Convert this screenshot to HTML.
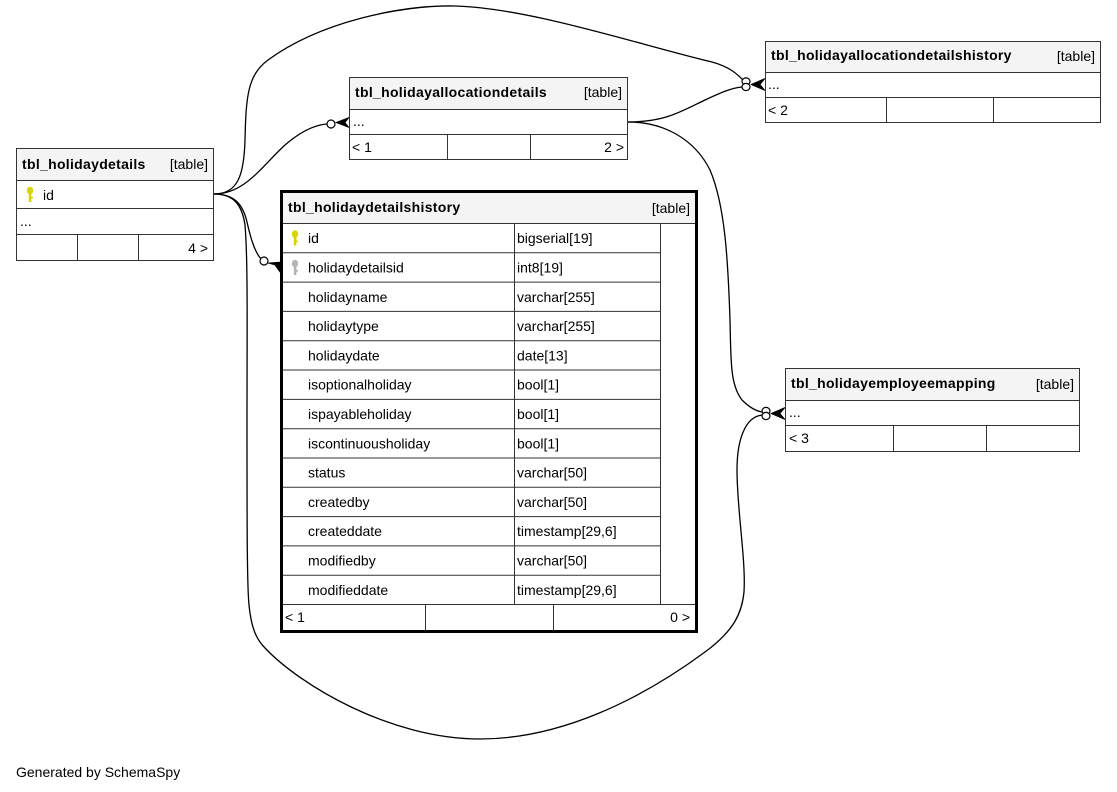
<!DOCTYPE html>
<html>
<head>
<meta charset="utf-8">
<style>
  html, body { margin:0; padding:0; background:#fff; }
  body { width:1117px; height:792px; overflow:hidden; }
  svg { display:block; }
  .t { font-family:"Liberation Sans", Arial, sans-serif; font-size:14px; fill:#000; }
  .b { font-family:"Liberation Sans", Arial, sans-serif; font-size:14px; font-weight:bold; letter-spacing:0.3px; fill:#000; }
  .box { fill:#fff; stroke:#333; stroke-width:1; }
  .hd { fill:#f4f4f4; stroke:none; }
  .ln { stroke:#333; stroke-width:1; fill:none; }
  .c { stroke:#000; stroke-width:1.3; fill:none; }
  .o { stroke:#000; stroke-width:1.2; fill:#fff; }
  .crow { fill:#000; stroke:#000; stroke-width:0.8; }
</style>
</head>
<body>
<svg width="1117" height="792" viewBox="0 0 1117 792" xmlns="http://www.w3.org/2000/svg">
  <rect x="0" y="0" width="1117" height="792" fill="#fff"/>

  <!-- ===== Connectors ===== -->
  <!-- holidaydetails -> allocationdetails -->
  <path class="c" d="M214,194 C245,194 262,166 285,145 C300,132 314,125 327,124"/>
  <!-- holidaydetails -> allocationdetailshistory (top arc) -->
  <path class="c" d="M214,194 C238,194 244,175 245,140 C246,95 248,75 268,60 C320,22 400,5 455,6 C530,8 640,45 712,62 C730,67 737,74 743,80"/>
  <!-- allocationdetails -> allocationdetailshistory -->
  <path class="c" d="M628,122 C665,122 680,112 705,100 C720,93 731,88 742,87"/>
  <!-- holidaydetails -> detailshistory.holidaydetailsid -->
  <path class="c" d="M214,194 C235,194 243,205 247,222 C251,240 255,252 261,259"/>
  <!-- holidaydetails -> employeemapping (bottom loop) -->
  <path class="c" d="M214,194 C234,194 242,205 245,225 C248,260 247,330 247,420 C247,520 247,585 249,605 C251,625 255,638 265,648 C300,685 390,739 480,739 C560,739 640,700 705,652 C735,630 742,612 744,592 C746,560 737,510 737,470 C737,440 745,417 762,415"/>
  <!-- allocationdetails -> employeemapping -->
  <path class="c" d="M628,122 C665,122 695,140 710,170 C725,205 728,260 730,320 C731,360 730,385 742,400 C750,408 756,411 762,412"/>

  <!-- end markers: allocationdetails -->
  <circle class="o" cx="331" cy="124" r="4"/>
  <polygon class="crow" points="349,117.5 336,122.5 349,127.5 345,122.5"/>

  <!-- end markers: allocationdetailshistory -->
  <ellipse class="o" cx="746" cy="81.5" rx="4" ry="3.6"/>
  <ellipse class="o" cx="746" cy="87" rx="4" ry="3.6"/>
  <polygon class="crow" points="765,78.5 751,84.5 765,90.5 760,84.5"/>

  <!-- end markers: detailshistory -->
  <circle class="o" cx="264" cy="261" r="4"/>
  <polygon class="crow" points="268,263 281,262 280,272 275,265"/>

  <!-- end markers: employeemapping -->
  <ellipse class="o" cx="766" cy="411" rx="4" ry="3.6"/>
  <ellipse class="o" cx="766" cy="416" rx="4" ry="3.6"/>
  <polygon class="crow" points="785,407.5 771,413.5 785,419.5 780,413.5"/>

  <!-- ===== tbl_holidaydetails ===== -->
  <rect class="box" x="16.5" y="148.5" width="197" height="112"/>
  <rect class="hd" x="17" y="149" width="196" height="31"/>
  <line class="ln" x1="16" y1="180.5" x2="214" y2="180.5"/>
  <line class="ln" x1="16" y1="208.5" x2="214" y2="208.5"/>
  <line class="ln" x1="16" y1="234.5" x2="214" y2="234.5"/>
  <line class="ln" x1="77.5" y1="235" x2="77.5" y2="261"/>
  <line class="ln" x1="138.5" y1="235" x2="138.5" y2="261"/>
  <text class="b" x="22" y="169">tbl_holidaydetails</text>
  <text class="t" x="208" y="169" text-anchor="end">[table]</text>
  <g fill="#d8d400">
    <ellipse cx="30" cy="190.5" rx="3.2" ry="3.8"/>
    <rect x="28.8" y="193" width="2.6" height="9"/>
    <rect x="31" y="197" width="2" height="1.6"/>
  </g>
  <text class="t" x="43" y="200">id</text>
  <text class="t" x="20" y="226">...</text>
  <text class="t" x="208" y="253" text-anchor="end">4 &gt;</text>

  <!-- ===== tbl_holidayallocationdetails ===== -->
  <rect class="box" x="349.5" y="77.5" width="278" height="82"/>
  <rect class="hd" x="350" y="78" width="277" height="31"/>
  <line class="ln" x1="349" y1="109.5" x2="628" y2="109.5"/>
  <line class="ln" x1="349" y1="134.5" x2="628" y2="134.5"/>
  <line class="ln" x1="447.5" y1="135" x2="447.5" y2="160"/>
  <line class="ln" x1="530.5" y1="135" x2="530.5" y2="160"/>
  <text class="b" x="355" y="97">tbl_holidayallocationdetails</text>
  <text class="t" x="622" y="97" text-anchor="end">[table]</text>
  <text class="t" x="353" y="126">...</text>
  <text class="t" x="352" y="152">&lt; 1</text>
  <text class="t" x="624" y="152" text-anchor="end">2 &gt;</text>

  <!-- ===== tbl_holidayallocationdetailshistory ===== -->
  <rect class="box" x="765.5" y="41.5" width="335" height="81"/>
  <rect class="hd" x="766" y="42" width="334" height="30"/>
  <line class="ln" x1="765" y1="72.5" x2="1101" y2="72.5"/>
  <line class="ln" x1="765" y1="97.5" x2="1101" y2="97.5"/>
  <line class="ln" x1="886.5" y1="98" x2="886.5" y2="123"/>
  <line class="ln" x1="993.5" y1="98" x2="993.5" y2="123"/>
  <text class="b" x="771" y="60">tbl_holidayallocationdetailshistory</text>
  <text class="t" x="1095" y="61" text-anchor="end">[table]</text>
  <text class="t" x="768" y="89">...</text>
  <text class="t" x="768" y="115">&lt; 2</text>

  <!-- ===== tbl_holidayemployeemapping ===== -->
  <rect class="box" x="785.5" y="368.5" width="294" height="83"/>
  <rect class="hd" x="786" y="369" width="293" height="31"/>
  <line class="ln" x1="785" y1="400.5" x2="1080" y2="400.5"/>
  <line class="ln" x1="785" y1="425.5" x2="1080" y2="425.5"/>
  <line class="ln" x1="893.5" y1="426" x2="893.5" y2="452"/>
  <line class="ln" x1="986.5" y1="426" x2="986.5" y2="452"/>
  <text class="b" x="791" y="388">tbl_holidayemployeemapping</text>
  <text class="t" x="1074" y="389" text-anchor="end">[table]</text>
  <text class="t" x="789" y="417">...</text>
  <text class="t" x="789" y="443">&lt; 3</text>

  <!-- ===== tbl_holidaydetailshistory ===== -->
  <rect x="281.5" y="191.5" width="415" height="440" fill="#fff" stroke="#000" stroke-width="3"/>
  <rect class="hd" x="283" y="193" width="412" height="30"/>
  <line class="ln" x1="283" y1="223.5" x2="695" y2="223.5"/>
  <g class="ln">
    <line x1="283" y1="252.8" x2="660" y2="252.8"/>
    <line x1="283" y1="282.1" x2="660" y2="282.1"/>
    <line x1="283" y1="311.4" x2="660" y2="311.4"/>
    <line x1="283" y1="340.7" x2="660" y2="340.7"/>
    <line x1="283" y1="370.0" x2="660" y2="370.0"/>
    <line x1="283" y1="399.4" x2="660" y2="399.4"/>
    <line x1="283" y1="428.7" x2="660" y2="428.7"/>
    <line x1="283" y1="458.0" x2="660" y2="458.0"/>
    <line x1="283" y1="487.3" x2="660" y2="487.3"/>
    <line x1="283" y1="516.6" x2="660" y2="516.6"/>
    <line x1="283" y1="545.9" x2="660" y2="545.9"/>
    <line x1="283" y1="575.2" x2="660" y2="575.2"/>
  </g>
  <line class="ln" x1="514.5" y1="223" x2="514.5" y2="604"/>
  <line class="ln" x1="660.5" y1="223" x2="660.5" y2="604"/>
  <line class="ln" x1="283" y1="604.5" x2="695" y2="604.5"/>
  <line class="ln" x1="425.5" y1="605" x2="425.5" y2="630"/>
  <line class="ln" x1="553.5" y1="605" x2="553.5" y2="630"/>

  <text class="b" x="288" y="212">tbl_holidaydetailshistory</text>
  <text class="t" x="690" y="213" text-anchor="end">[table]</text>

  <g fill="#d8d400">
    <ellipse cx="295" cy="234" rx="3.2" ry="3.8"/>
    <rect x="293.8" y="236.5" width="2.6" height="9"/>
    <rect x="296" y="240.5" width="2" height="1.6"/>
  </g>
  <g fill="#b4b4b4">
    <ellipse cx="295" cy="263.5" rx="3.2" ry="3.8"/>
    <rect x="293.8" y="266" width="2.6" height="9"/>
    <rect x="296" y="270" width="2" height="1.6"/>
  </g>

  <g class="t">
    <text x="308" y="243">id</text>
    <text x="308" y="272.5">holidaydetailsid</text>
    <text x="308" y="301.8">holidayname</text>
    <text x="308" y="331.1">holidaytype</text>
    <text x="308" y="360.4">holidaydate</text>
    <text x="308" y="389.7">isoptionalholiday</text>
    <text x="308" y="419">ispayableholiday</text>
    <text x="308" y="448.3">iscontinuousholiday</text>
    <text x="308" y="477.6">status</text>
    <text x="308" y="506.9">createdby</text>
    <text x="308" y="536.2">createddate</text>
    <text x="308" y="565.5">modifiedby</text>
    <text x="308" y="594.8">modifieddate</text>

    <text x="517" y="243">bigserial[19]</text>
    <text x="517" y="272.5">int8[19]</text>
    <text x="517" y="301.8">varchar[255]</text>
    <text x="517" y="331.1">varchar[255]</text>
    <text x="517" y="360.4">date[13]</text>
    <text x="517" y="389.7">bool[1]</text>
    <text x="517" y="419">bool[1]</text>
    <text x="517" y="448.3">bool[1]</text>
    <text x="517" y="477.6">varchar[50]</text>
    <text x="517" y="506.9">varchar[50]</text>
    <text x="517" y="536.2">timestamp[29,6]</text>
    <text x="517" y="565.5">varchar[50]</text>
    <text x="517" y="594.8">timestamp[29,6]</text>
  </g>
  <text class="t" x="285" y="622">&lt; 1</text>
  <text class="t" x="690" y="622" text-anchor="end">0 &gt;</text>

  <!-- footer -->
  <text class="t" x="16" y="777">Generated by SchemaSpy</text>
</svg>
</body>
</html>
